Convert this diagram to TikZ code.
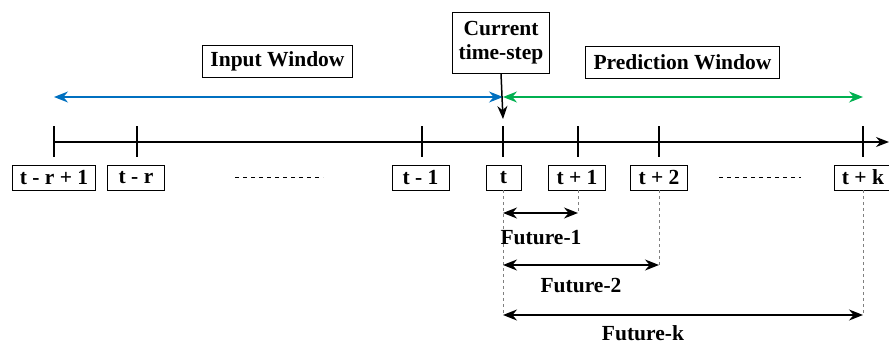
\documentclass[tikz,border=0pt]{standalone}
\usepackage{fontspec}
\setmainfont{Liberation Serif}
\usetikzlibrary{arrows.meta}

\definecolor{inblue}{RGB}{0,112,192}
\definecolor{outgreen}{RGB}{0,176,80}

\tikzset{
    winbox/.style={draw, line width=0.9pt, inner xsep=8pt, inner ysep=0pt, minimum height=32pt},
    tbox/.style={draw, line width=0.7pt, inner xsep=7.5pt, inner ysep=0pt, minimum height=25pt, minimum width=57pt},
    guide/.style={gray, line width=0.7pt, dash pattern=on 3pt off 3pt},
    span/.style={{Stealth[length=14pt,width=11pt]}-{Stealth[length=14pt,width=11pt]}, line width=1.4pt}
}

\begin{document}
\begin{tikzpicture}[x=1pt, y=-1pt, font=\fontsize{21.5}{24.5}\selectfont\bfseries]

    \useasboundingbox (0,0) rectangle (889,345);

    % window titles
    \node[winbox] (input) at (277.5,61) {Input Window};
    \node[winbox, align=center, minimum height=61pt, inner xsep=6pt] (now) at (501,42.5) {Current\\time-step};
    \node[winbox] (pred) at (682.5,62) {Prediction Window};

    % time axis
    \draw[line width=1.5pt, -{Stealth[length=13pt,width=10pt]}] (54,142) -- (889,142);
    \foreach \x in {54,137,422,503,578,659,863}
        \draw[line width=1.2pt] (\x,126) -- (\x,157);

    % step labels
    \node[tbox] (tr1) at (54,177.5) {t - r + 1};
    \node[tbox] (tr) at (136,177.5) {t - r};
    \node[tbox] (tm1) at (420.5,177.5) {t - 1};
    \node[tbox, minimum width=35pt] (t) at (503.5,177.5) {t};
    \node[tbox] (tp1) at (577,177.5) {t + 1};
    \node[tbox] (tp2) at (659,177.5) {t + 2};
    \node[tbox] (tpk) at (863,177.5) {t + k};
    \draw[line width=0.9pt, dash pattern=on 4pt off 4pt] (235,177) -- (323,177);
    \draw[line width=0.9pt, dash pattern=on 4pt off 4pt] (719,177) -- (801,177);

    % windows
    \coordinate (split) at (503,97);
    \draw[span, inblue, line width=1.2pt] (54,97) -- (split);
    \draw[span, outgreen, line width=1.2pt] (split) -- (863,97);
    \draw[line width=1.5pt, -{Stealth[length=13pt,width=10pt]}] (now.south) -- (503,119);

    % horizons
    \coordinate (f1) at (503,213);
    \coordinate (f2) at (503,265);
    \coordinate (fk) at (503,315);
    \draw[guide] (503,190) -- (fk);
    \draw[guide] (578,190) -- (578,213);
    \draw[guide] (659,190) -- (659,265);
    \draw[guide] (863,190) -- (863,315);

    \draw[span] (f1) -- (578,213);
    \draw[span] (f2) -- (659,265);
    \draw[span] (fk) -- (863,315);

    \node (fut1) at (541,238) {Future-1};
    \node (fut2) at (581,286) {Future-2};
    \node (futk) at (643,333) {Future-k};
\end{tikzpicture}
\end{document}
